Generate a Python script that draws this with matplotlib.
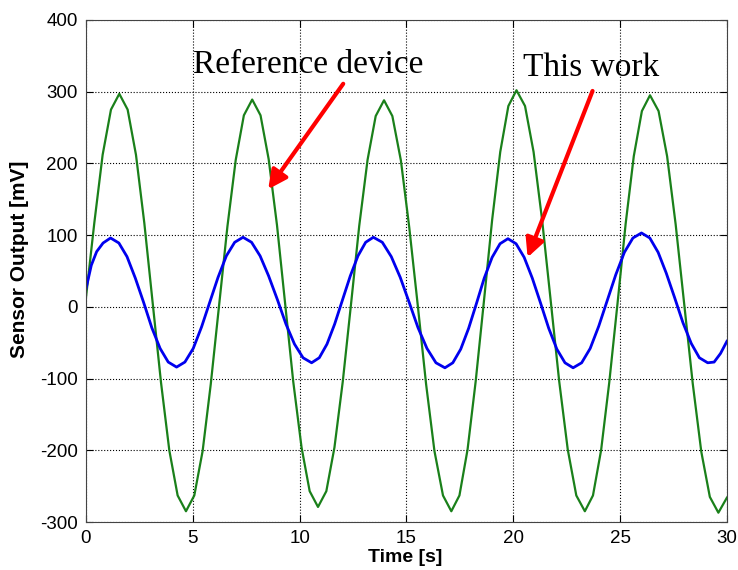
import numpy as np
import matplotlib
matplotlib.use('Agg')
import matplotlib.pyplot as plt

# reference device (green)
green_t = [0.00, 0.39, 0.78, 1.17,
           1.56, 1.95, 2.34, 2.73, 3.12, 3.51, 3.90, 4.29,
           4.68, 5.07, 5.46, 5.84, 6.23, 6.62, 7.01, 7.39,
           7.78, 8.17, 8.55, 8.94, 9.32, 9.70, 10.09, 10.47,
           10.86, 11.25, 11.63, 12.02, 12.41, 12.79, 13.18, 13.56,
           13.95, 14.34, 14.74, 15.13, 15.53, 15.92, 16.31, 16.71,
           17.10, 17.48, 17.86, 18.24, 18.63, 19.01, 19.39, 19.77,
           20.15, 20.55, 20.95, 21.35, 21.75, 22.15, 22.55, 22.95,
           23.35, 23.73, 24.11, 24.49, 24.88, 25.26, 25.64, 26.02,
           26.40, 26.80, 27.20, 27.60, 28.00, 28.40, 28.80, 29.20,
           29.60, 30.00]
green_mv = [13, 117, 212, 275,
            297, 275, 212, 117, 6, -105, -200, -263,
            -285, -263, -201, -108, 2, 112, 205, 267,
            289, 267, 206, 114, 5, -104, -196, -257,
            -279, -257, -196, -104, 5, 113, 205, 266,
            288, 266, 204, 111, 2, -108, -201, -263,
            -285, -263, -199, -104, 9, 121, 216, 280,
            302, 280, 216, 121, 9, -104, -199, -263,
            -285, -263, -200, -106, 5, 116, 210, 273,
            295, 273, 210, 115, 4, -107, -202, -265,
            -287, -266]

# this work (blue)
blue_t = [0.00, 0.25, 0.50, 0.80,
          1.15, 1.54, 1.92, 2.31, 2.70, 3.08, 3.47, 3.85,
          4.24, 4.63, 5.02, 5.41, 5.80, 6.18, 6.57, 6.96,
          7.35, 7.75, 8.15, 8.55, 8.96, 9.36, 9.76, 10.16,
          10.56, 10.92, 11.28, 11.64, 12.01, 12.37, 12.73, 13.09,
          13.45, 13.87, 14.29, 14.71, 15.13, 15.54, 15.96, 16.38,
          16.80, 17.17, 17.54, 17.91, 18.28, 18.64, 19.01, 19.38,
          19.75, 20.13, 20.51, 20.89, 21.28, 21.66, 22.04, 22.42,
          22.80, 23.20, 23.60, 24.00, 24.40, 24.80, 25.20, 25.60,
          26.00, 26.39, 26.78, 27.16, 27.55, 27.94, 28.33, 28.71,
          29.10, 29.40, 29.70, 30.00]
blue_mv = [25, 58, 77, 89,
           96, 89, 70, 40, 6, -29, -58, -77,
           -84, -77, -58, -28, 7, 41, 71, 90,
           97, 90, 71, 43, 10, -24, -52, -71,
           -78, -71, -52, -24, 10, 43, 71, 90,
           97, 90, 70, 41, 6, -29, -58, -78,
           -85, -78, -59, -30, 5, 40, 69, 88,
           95, 88, 69, 40, 5, -30, -59, -78,
           -85, -78, -58, -27, 9, 45, 76, 96,
           103, 96, 76, 47, 13, -22, -51, -71,
           -78, -77, -65, -48]

plt.rcParams['font.family'] = ['Liberation Sans', 'DejaVu Sans']
plt.rcParams['axes.unicode_minus'] = False

fig = plt.figure(figsize=(7.38, 5.70), dpi=100)
ax = fig.add_axes([0.1165, 0.0842, 0.8685, 0.8808])

ax.plot(green_t, green_mv, color='#1a801a', lw=1.6)
ax.plot(blue_t, blue_mv, color='#0000ee', lw=2.0)

ax.set_xlim(0, 30)
ax.set_ylim(-300, 400)
ax.set_xticks(range(0, 31, 5))
ax.set_yticks(range(-300, 401, 100))
ax.grid(True, color='black', linestyle=':', linewidth=0.8)
ax.tick_params(direction='in', top=True, right=True, labelsize=13.5, length=5, pad=6)
for s in ax.spines.values():
    s.set_color('#444444')

fig.text(405.5 / 738, 1 - 558 / 570, 'Time [s]', fontsize=14, fontweight='bold',
         ha='center', va='center')
fig.text(20 / 738, 1 - 259 / 570, 'Sensor Output [mV]', fontsize=15, fontweight='bold',
         ha='center', va='center', rotation=90)

ax.text(5.0, 326, 'Reference device', family=['Liberation Serif'], fontsize=24,
        ha='left', va='baseline')
ax.text(20.45, 322, 'This work', family=['Liberation Serif'], fontsize=24,
        ha='left', va='baseline')

arrow = dict(arrowstyle='-|>', color='red', lw=3, mutation_scale=28, shrinkA=0, shrinkB=0)
ax.annotate('', xy=(8.53, 164), xytext=(12.04, 311), arrowprops=arrow)
ax.annotate('', xy=(20.67, 69), xytext=(23.71, 301), arrowprops=arrow)

fig.savefig('out.png', dpi=100)
